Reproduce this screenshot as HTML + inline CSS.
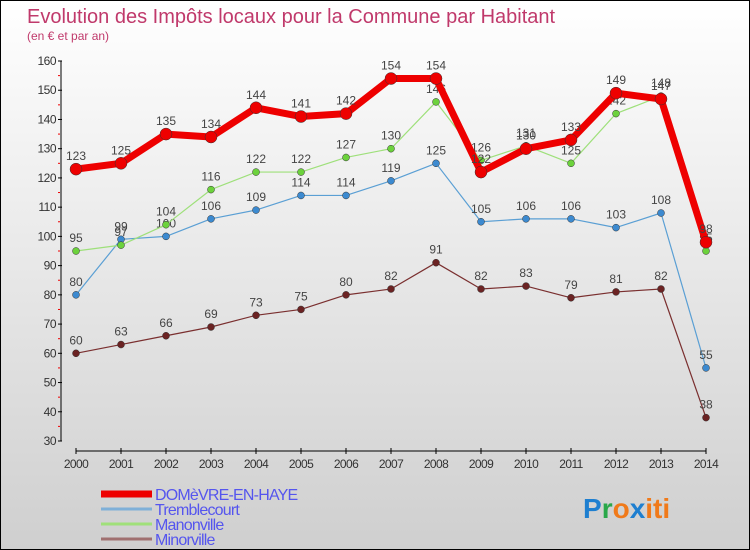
<!DOCTYPE html>
<html><head><meta charset="utf-8"><style>
body{margin:0}
#wrap{position:relative;width:750px;height:550px;box-sizing:border-box;border:1px solid #000;background:linear-gradient(#ffffff,#cfcfcf);font-family:"Liberation Sans",sans-serif;overflow:hidden}
svg{position:absolute;left:0;top:0}
</style></head><body>
<div id="wrap">
<svg id="chart" width="750" height="550">
<text x="26" y="22" font-size="20" fill="#c0396b">Evolution des Impôts locaux pour la Commune par Habitant</text>
<text x="26" y="39" font-size="12" fill="#c0396b">(en € et par an)</text>
</svg>
</div>
<script>
const years=["2000","2001","2002","2003","2004","2005","2006","2007","2008","2009","2010","2011","2012","2013","2014"];
const yTicks=[30,40,50,60,70,80,90,100,110,120,130,140,150,160];
const domevre=[123,125,135,134,144,141,142,154,154,122,130,133,149,147,98];
const tremblecourt=[80,99,100,106,109,114,114,119,125,105,106,106,103,108,55];
const manonville=[95,97,104,116,122,122,127,130,146,126,131,125,142,148,95];
const minorville=[60,63,66,69,73,75,80,82,91,82,83,79,81,82,38];
const seriesNames=["DOMèVRE-EN-HAYE","Tremblecourt","Manonville","Minorville"];

const NS="http://www.w3.org/2000/svg";
const svg=document.getElementById('chart');
const X=i=>75+i*45;
const Y=v=>440-(v-30)*(380/130);
function mk(t,a,p){const e=document.createElementNS(NS,t);for(const k in a)e.setAttribute(k,a[k]);(p||svg).appendChild(e);return e;}

// axes
const ax=mk('g',{});


mk('line',{x1:60,y1:60,x2:60,y2:440,stroke:'#000'},ax);
mk('line',{x1:75,y1:450,x2:705,y2:450,stroke:'#000'},ax);
yTicks.forEach(v=>{
  mk('line',{x1:57,y1:Y(v),x2:61,y2:Y(v),stroke:'#000'},ax);
  if(v<160)mk('line',{x1:57,y1:Y(v+5),x2:59,y2:Y(v+5),stroke:'#e00'},ax);
  const t=mk('text',{x:55,y:Y(v)+4,'font-size':12,fill:'#333','text-anchor':'end','letter-spacing':'-0.5'},ax);
  t.textContent=v;
  
  
});
years.forEach((y,i)=>{
  mk('line',{x1:X(i),y1:447,x2:X(i),y2:453,stroke:'#000'},ax);
  const t=mk('text',{x:X(i),y:467,'font-size':12,fill:'#333','text-anchor':'middle','letter-spacing':'-0.6'},ax);
  t.textContent=y;
  
  
});

function series(data,color,w,r,name,fill){
  const g=mk('g',{});
  
  
  mk('polyline',{points:data.map((v,i)=>X(i)+','+Y(v)).join(' '),fill:'none',stroke:color,'stroke-width':w,'stroke-linejoin':'round'},g);
  data.forEach((v,i)=>{
    const c=mk('circle',{cx:X(i),cy:Y(v),r:r,fill:fill,stroke:'#333','stroke-width':0.5},g);
    
    
    const t=mk('text',{x:X(i),y:Y(v)-9,'font-size':12,fill:'#444','text-anchor':'middle'},g);
    t.textContent=v;
    
    
  });
}
series(minorville,'#7a2f2f',1.2,3.5,'series-minorville','#6b2323');
series(tremblecourt,'#5a9fd4',1.2,3.5,'series-tremblecourt','#3c8ad0');
series(manonville,'#9ee07a',1.2,3.5,'series-manonville','#6cd23c');
series(domevre,'#ee0000',7,6,'series-domevre','#ee0000');

// legend
const lg=mk('g',{});


const lc=['#ee0000','#7fb0d8','#a0e07a','#a07070'],lw=[7,3,3,3];
seriesNames.forEach((n,i)=>{
  const y=493+i*15;
  mk('line',{x1:100,y1:y,x2:151,y2:y,stroke:lc[i],'stroke-width':lw[i]},lg);
  const t=mk('text',{x:154,y:y+6,'font-size':16,fill:'#5555ee','letter-spacing':'-0.8'},lg);
  t.textContent=n;
  
  
});
const logo=mk('text',{x:582,y:517,'font-size':28,'font-weight':'bold'});


logo.innerHTML='<tspan fill="#1e7fd0">P</tspan><tspan fill="#2aa84a">r</tspan><tspan fill="#f07a1a">o</tspan><tspan fill="#1e7fd0">x</tspan><tspan fill="#f07a1a">iti</tspan>';
</script>
</body></html>
